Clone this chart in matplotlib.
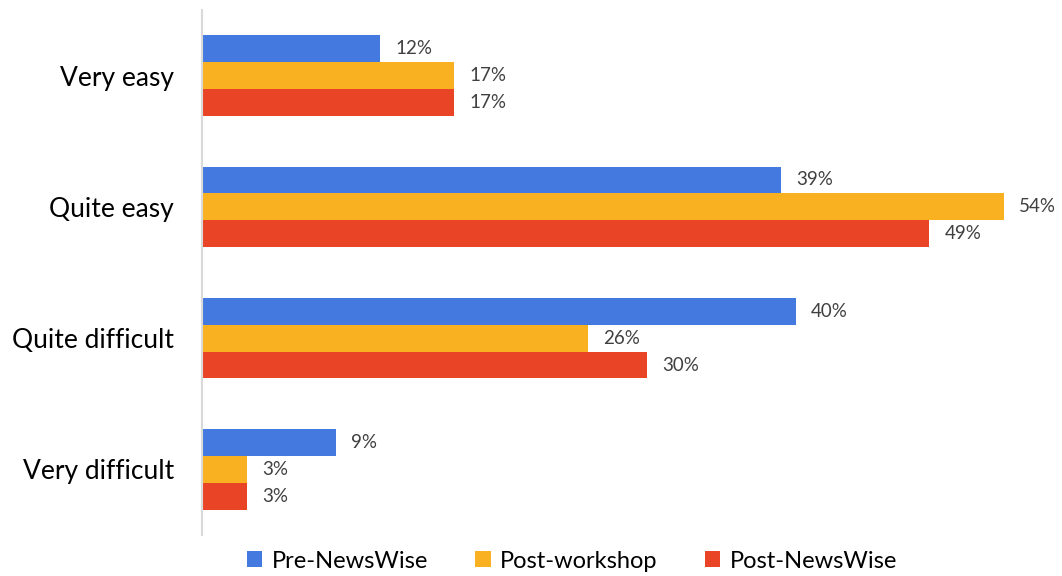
import matplotlib
matplotlib.use("Agg")
import matplotlib.pyplot as plt
import numpy as np

categories = ["Very easy", "Quite easy", "Quite difficult", "Very difficult"]
series_names = ["Pre-NewsWise", "Post-workshop", "Post-NewsWise"]
pre_newswise = [12, 39, 40, 9]
post_workshop = [17, 54, 26, 3]
post_newswise = [17, 49, 30, 3]
colors = ["#4479E0", "#F9B121", "#E84425"]

plt.rcParams['font.family'] = ['Lato', 'DejaVu Sans']

fig = plt.figure(figsize=(10.62, 5.76), dpi=100)
ax = fig.add_axes([202/1062, 41/576, 1 - 202/1062 - 2/1062, (535-10)/576])

y = np.arange(len(categories))
h = 0.205
series = [pre_newswise, post_workshop, post_newswise]
for i, (vals, name, c) in enumerate(zip(series, series_names, colors)):
    pos = y + (i - 1) * h
    bars = ax.barh(pos, vals, height=h, color=c, label=name, edgecolor='none')
    for b, v in zip(bars, vals):
        ax.annotate(f"{v}%", (v, b.get_y() + b.get_height() / 2),
                    xytext=(11, 0), textcoords='offset points',
                    va='center', ha='left', fontsize=13.5, color='#404040')

ax.set_ylim(len(categories) - 0.5, -0.5)
ax.set_xlim(0, 57.8)
ax.set_yticks(y)
ax.set_yticklabels(categories, fontsize=19, color='#000000')
ax.set_xticks([])
ax.tick_params(axis='y', length=0, pad=20)
for s in ['top', 'right', 'bottom']:
    ax.spines[s].set_visible(False)
ax.spines['left'].set_color('#D9D9D9')
ax.spines['left'].set_linewidth(1.5)

leg = fig.legend(loc='center', bbox_to_anchor=(572/1062, 1 - 561/576), ncol=3,
                 frameon=False, fontsize=17, handlelength=0.65, handleheight=0.65,
                 columnspacing=2.0, handletextpad=0.4)

fig.savefig("out.png", dpi=100)
